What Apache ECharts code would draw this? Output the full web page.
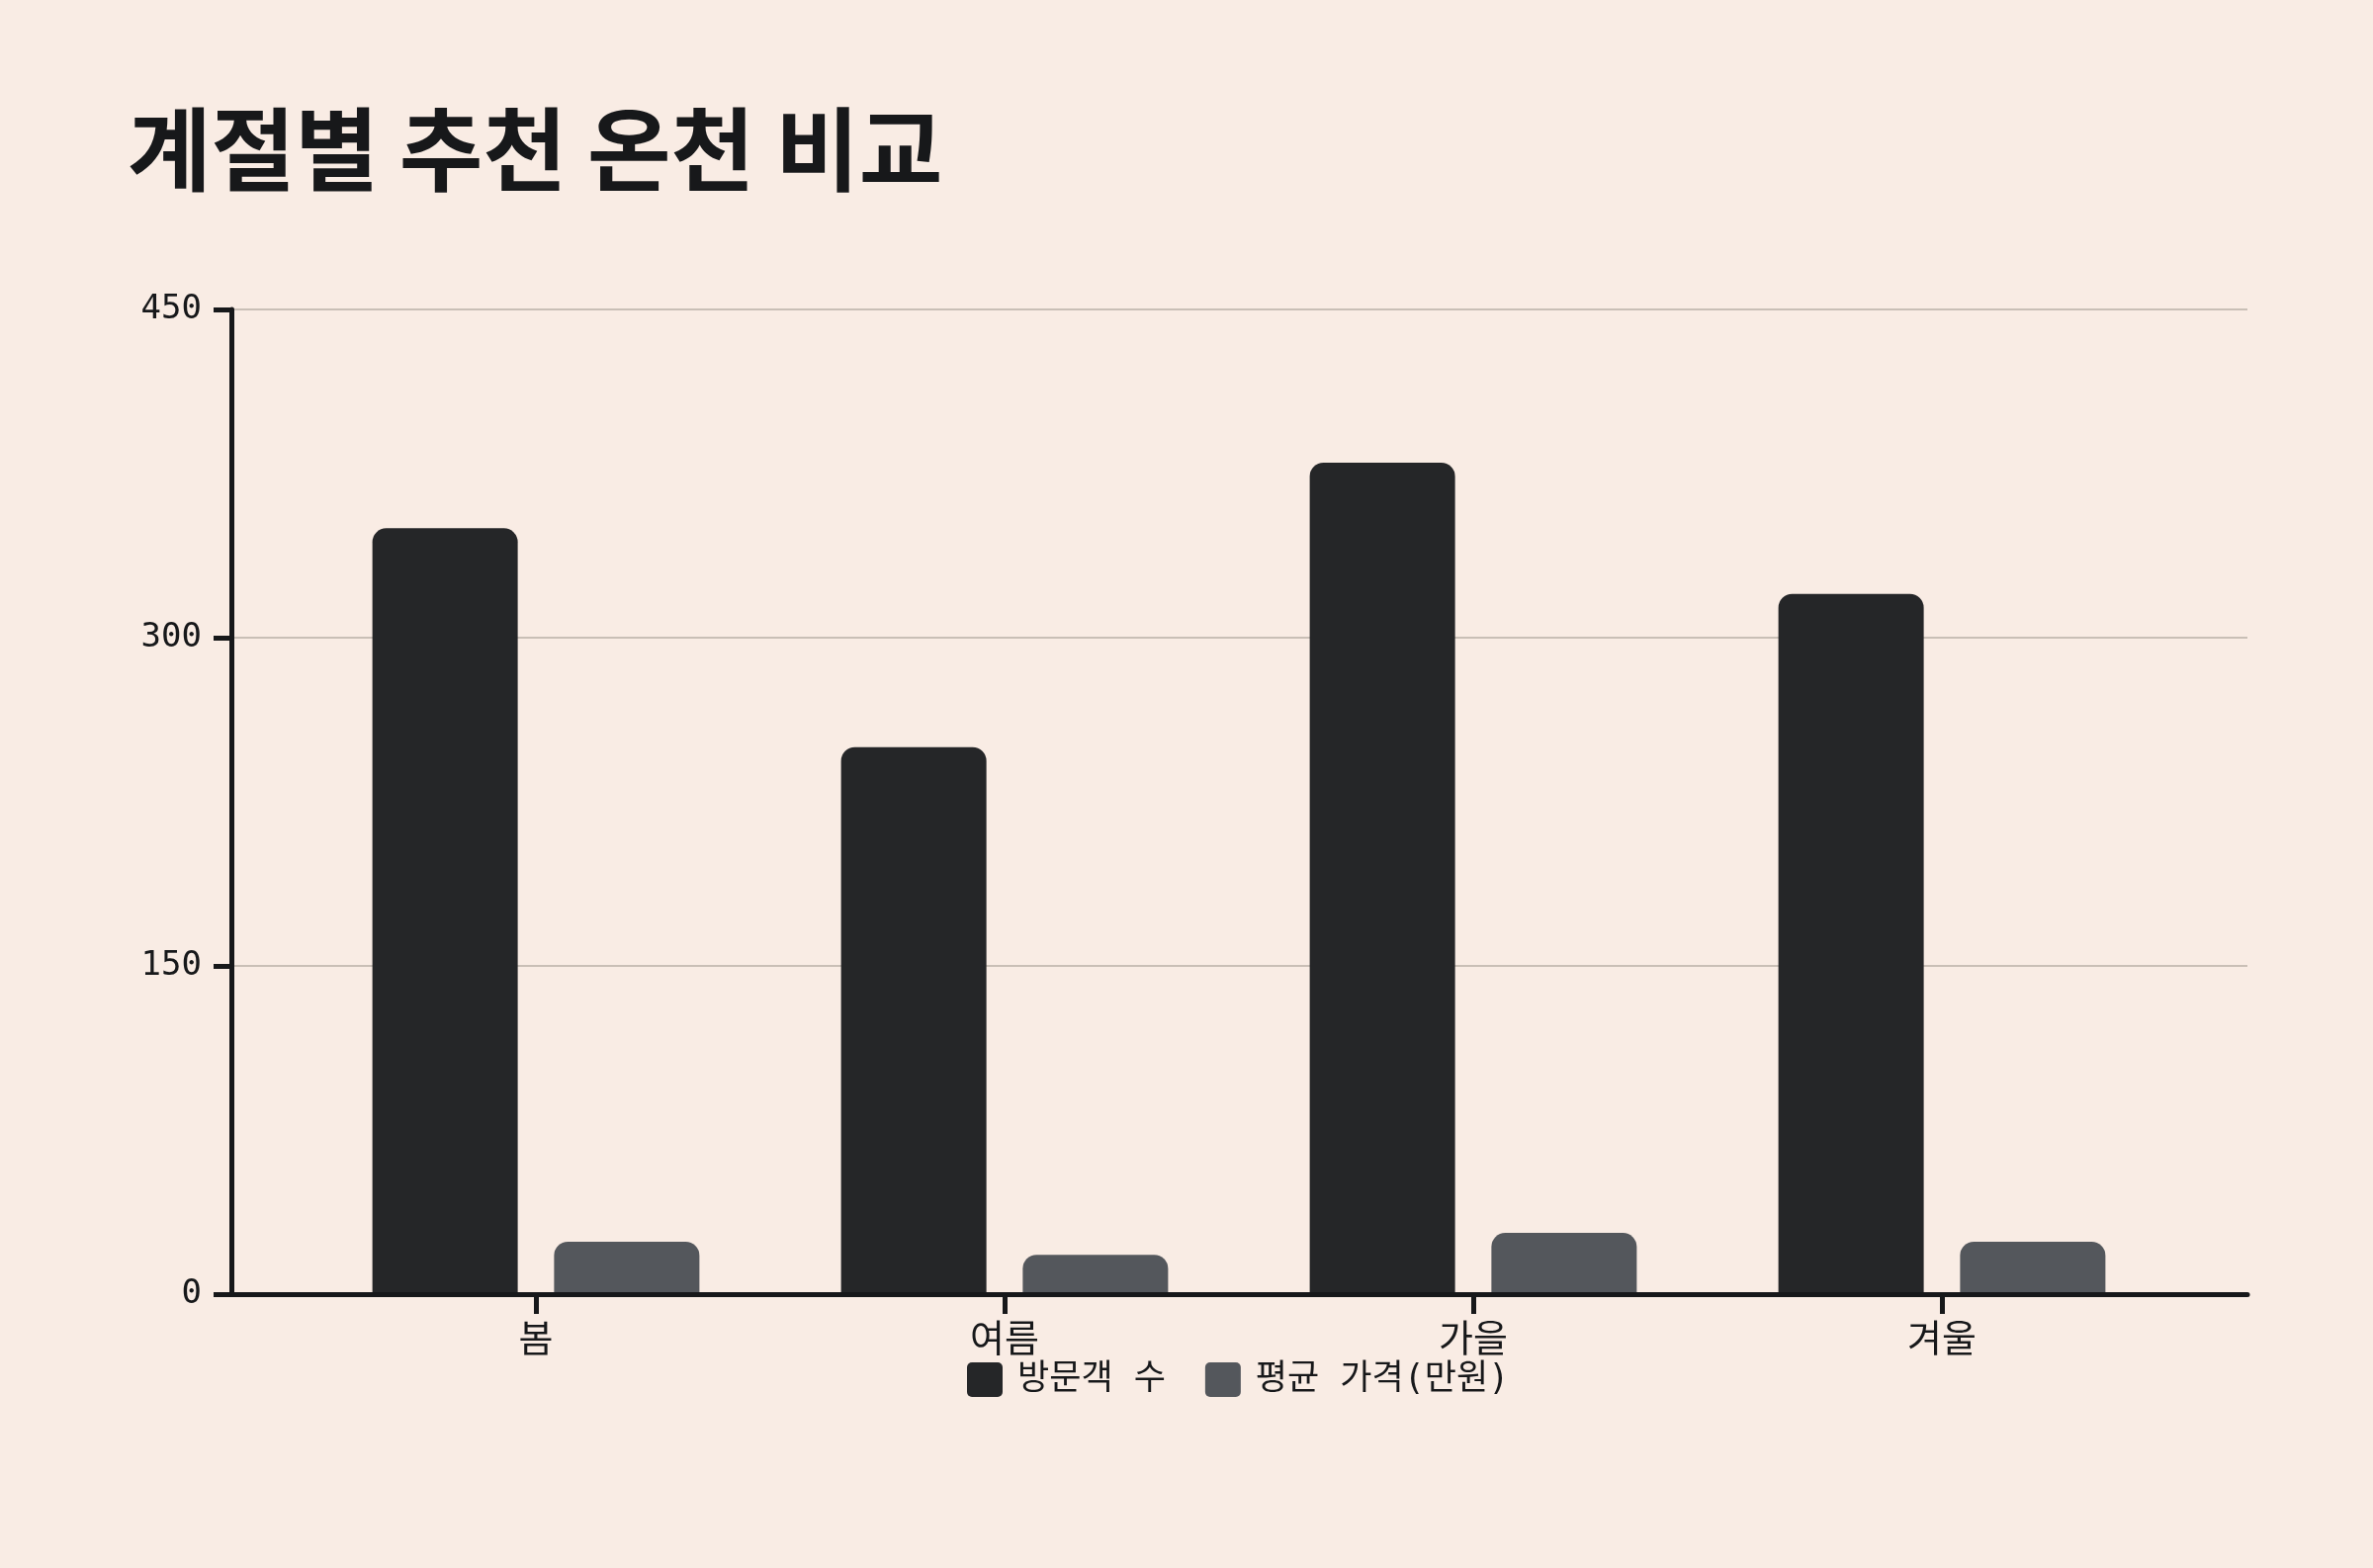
<!DOCTYPE html>
<html lang="ko">
<head>
<meta charset="utf-8">
<title>계절별 추천 온천 비교</title>
<script src="https://cdn.jsdelivr.net/npm/echarts@6/dist/echarts.min.js"></script>
<style>
  html, body { margin: 0; padding: 0; background: #f9ece4; }
  #chart { width: 2400px; height: 1586px; }
</style>
</head>
<body>
<div id="chart"></div>
<script>
// Seasons on the category axis
const seasons = ['봄', '여름', '가을', '겨울'];
// Visitor counts per season
const visitors = [350, 250, 380, 320];
// Average price per season (10,000 KRW units)
const avgPrice = [24, 18, 28, 24];
// Value axis ticks
const yMin = 0;
const yMax = 450;
const yStep = 150;

const seriesNames = ['방문객 수', '평균 가격(만원)'];

const INK = '#17181a';
const MONO = "'DejaVu Sans Mono', 'Noto Sans CJK KR', monospace";
const legendIcon = 'path://M5,0H31A5,5 0 0 1 36,5V30A5,5 0 0 1 31,35H5A5,5 0 0 1 0,30V5A5,5 0 0 1 5,0Z';

const chart = echarts.init(document.getElementById('chart'), null, { renderer: 'canvas' });

chart.setOption({
  backgroundColor: '#f9ece4',
  animation: false,
  title: {
    text: '계절별 추천 온천 비교',
    left: 124,
    top: 100,
    textStyle: {
      fontFamily: "'Noto Sans CJK KR', sans-serif",
      fontWeight: 'bold',
      fontSize: 92,
      color: INK
    }
  },
  legend: {
    data: seriesNames,
    left: 978,
    top: 1378,
    padding: 0,
    itemWidth: 36,
    itemHeight: 35,
    itemGap: 40,
    icon: legendIcon,
    textStyle: {
      fontFamily: MONO,
      fontSize: 35,
      color: INK,
      padding: [0, 0, 0, 10]
    }
  },
  grid: [
    // frame grid: value axis, gridlines and baseline
    { left: 234, right: 127, top: 313, bottom: 277 },
    // inner grid holding the bars and season ticks
    { left: 305, right: 199, top: 313, bottom: 277 }
  ],
  xAxis: [
    {
      type: 'category',
      gridIndex: 0,
      data: seasons,
      z: 5,
      axisLine: { show: true, lineStyle: { color: INK, width: 5 } },
      axisTick: { show: false },
      axisLabel: { show: false },
      splitLine: { show: false }
    },
    {
      type: 'category',
      gridIndex: 1,
      data: seasons,
      z: 5,
      axisLine: { show: false },
      axisTick: { show: true, length: 20, alignWithLabel: true, lineStyle: { color: INK, width: 5 } },
      axisLabel: { margin: 29, fontFamily: MONO, fontSize: 38, color: INK }
    }
  ],
  yAxis: [
    {
      type: 'value',
      gridIndex: 0,
      min: yMin,
      max: yMax,
      interval: yStep,
      axisLine: { show: true, lineStyle: { color: INK, width: 5 } },
      axisTick: { show: true, length: 18, lineStyle: { color: INK, width: 5 } },
      axisLabel: { margin: 30, fontFamily: MONO, fontSize: 34, color: INK, padding: [4, 0, 0, 0] },
      splitLine: { show: true, lineStyle: { color: '#c9bfb6', width: 2 } }
    },
    {
      type: 'value',
      gridIndex: 1,
      min: yMin,
      max: yMax,
      interval: yStep,
      show: false
    }
  ],
  series: [
    {
      name: seriesNames[0],
      type: 'bar',
      xAxisIndex: 1,
      yAxisIndex: 1,
      data: visitors,
      barWidth: 147,
      barGap: '25%',
      itemStyle: { color: '#252628', borderRadius: [14, 14, 0, 0] }
    },
    {
      name: seriesNames[1],
      type: 'bar',
      xAxisIndex: 1,
      yAxisIndex: 1,
      data: avgPrice,
      barWidth: 147,
      barGap: '25%',
      itemStyle: { color: '#54575c', borderRadius: [14, 14, 0, 0] }
    }
  ]
});
</script>
</body>
</html>
